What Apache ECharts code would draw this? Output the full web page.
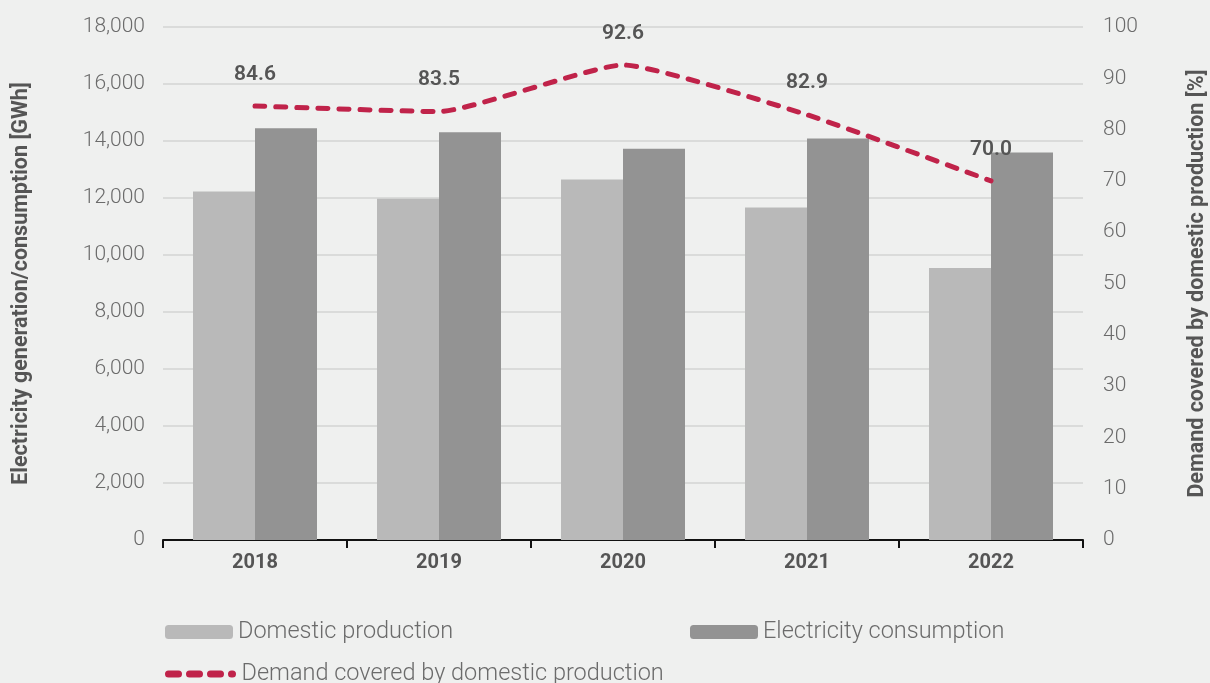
<!DOCTYPE html>
<html><head><meta charset="utf-8">
<script src="https://cdn.jsdelivr.net/npm/echarts@6/dist/echarts.min.js"></script>
<style>html,body{margin:0;padding:0;background:#eff0ef}#c{width:1210px;height:683px}</style>
</head><body><div id="c"></div>
<script>
const years = ['2018','2019','2020','2021','2022'];
const domestic = [12230, 11970, 12650, 11670, 9540];
const consumption = [14450, 14310, 13730, 14090, 13600];
const coverage = [84.6, 83.5, 92.6, 82.9, 70.0];
const leftTicks = {min:0, max:18000, interval:2000};
const rightTicks = {min:0, max:100, interval:10};

const font = 'Roboto';
const legendText = {fontSize:23.5, color:'#6b6b6b', fontFamily:font, fontWeight:300};
const dashIcon = 'path://M3.5,0h10a3.5,3.5 0 0 1 0,7h-10a3.5,3.5 0 0 1 0,-7z' +
  'M24.5,0h10a3.5,3.5 0 0 1 0,7h-10a3.5,3.5 0 0 1 0,-7z' +
  'M45.5,0h10a3.5,3.5 0 0 1 0,7h-10a3.5,3.5 0 0 1 0,-7z' +
  'M66.5,0h1a3.5,3.5 0 0 1 0,7h-1a3.5,3.5 0 0 1 0,-7z';
const chart = echarts.init(document.getElementById('c'));
chart.setOption({
  backgroundColor:'#eff0ef',
  animation:false,
  textStyle:{fontFamily:font},
  grid:{left:163, right:127, top:27, bottom:143, containLabel:false, outerBoundsMode:'none'},
  legend:[
    {data:['Domestic production'], left:160, top:615, itemWidth:68, itemHeight:14, itemGap:6, textStyle:legendText},
    {data:['Electricity consumption'], left:685, top:615, itemWidth:68, itemHeight:14, textStyle:legendText},
    {data:[{name:'Demand covered by domestic production', icon:dashIcon}], left:160, top:657,
     itemWidth:72, itemHeight:7, textStyle:legendText}
  ],
  xAxis:{type:'category', data:years,
    axisLine:{lineStyle:{color:'#111', width:2}},
    axisTick:{show:true, length:8, lineStyle:{color:'#111', width:2}},
    axisLabel:{fontSize:20, fontWeight:'bold', color:'#555', margin:13, fontFamily:font}},
  yAxis:[
    {type:'value', min:leftTicks.min, max:leftTicks.max, interval:leftTicks.interval,
     name:'Electricity generation/consumption [GWh]', nameLocation:'middle', nameGap:130,
     nameTextStyle:{fontSize:21.5, fontWeight:'bold', color:'#555', fontFamily:font},
     axisLabel:{fontSize:21, color:'#6b6b6b', margin:18, fontWeight:300,
       formatter:v=>v.toLocaleString('en-US')},
     splitLine:{lineStyle:{color:'#dadbda', width:2}},
     axisLine:{show:false}, axisTick:{show:false}},
    {type:'value', min:rightTicks.min, max:rightTicks.max, interval:rightTicks.interval,
     name:'Demand covered by domestic production [%]', nameLocation:'middle', nameGap:104,
     nameTextStyle:{fontSize:21.5, fontWeight:'bold', color:'#555', fontFamily:font},
     axisLabel:{fontSize:21, color:'#6b6b6b', margin:20, fontWeight:300},
     splitLine:{show:false}, axisLine:{show:false}, axisTick:{show:false}}
  ],
  series:[
    {name:'Domestic production', type:'bar', data:domestic, barWidth:62, barGap:'0%',
     itemStyle:{color:'#b9b9b9'}},
    {name:'Electricity consumption', type:'bar', data:consumption, barWidth:62,
     itemStyle:{color:'#939393'}},
    {name:'Demand covered by domestic production', type:'line', yAxisIndex:1, data:coverage,
     symbol:'circle', symbolSize:0.1, showSymbol:true, smooth:0.15, z:5,
     lineStyle:{color:'#c0234a', width:5, type:[10,11], cap:'round'},
     itemStyle:{color:'#c0234a'},
     label:{show:true, position:'top', distance:21, fontSize:21, fontWeight:600, color:'#555',
       fontFamily:font, formatter:p=>p.value.toFixed(1)}}
  ]
});
</script></body></html>
